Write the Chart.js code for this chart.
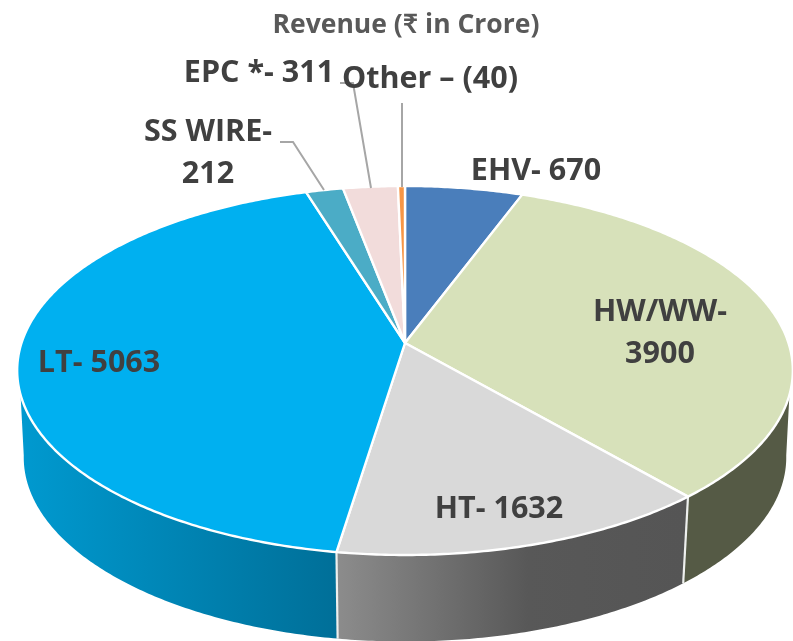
<!DOCTYPE html>
<html><head><meta charset="utf-8">
<style>html,body{margin:0;padding:0;background:#fff}canvas{display:block}</style>
<script src="https://cdn.jsdelivr.net/npm/chart.js@4"></script>
</head><body><canvas id="c" width="793" height="641"></canvas>
<script>
const categories = ["EHV", "HW/WW", "HT", "LT", "SS WIRE", "EPC *", "Other"];
const revenue = [670, 3900, 1632, 5063, 212, 311, 40];
const sliceColors = ["#4a7ebb", "#d7e1ba", "#d9d9d9", "#00b0f0", "#4bacc6", "#f2dcdb", "#f79646"];
const chartTitle = "Revenue (₹ in Crore)";

// perspective projection of the unit circle onto the picture
const TOP = {cx:405, cy:343, a:383.5, b:180.4};
const LOW = {cx:405, cy:430, a:377, b:180};
const K = 0.149;
function project(p, ang){
  const x = Math.cos(ang), y = Math.sin(ang), d = 1 - K*y;
  return [p.cx + p.a*x/d, p.cy + p.b*y/d];
}
function rimPath(ctx, p, a0, a1, first){
  const n = Math.max(2, Math.ceil(Math.abs(a1-a0)/0.01));
  for(let i=0;i<=n;i++){
    const q = project(p, a0+(a1-a0)*i/n);
    if(i===0 && first) ctx.moveTo(q[0],q[1]); else ctx.lineTo(q[0],q[1]);
  }
}
Chart.ArcElement.prototype.draw = function(ctx){
  ctx.save();
  ctx.beginPath();
  ctx.moveTo(TOP.cx, TOP.cy);
  rimPath(ctx, TOP, this.startAngle, this.endAngle, false);
  ctx.closePath();
  ctx.fillStyle = this.options.backgroundColor;
  ctx.fill();
  ctx.strokeStyle = this.options.borderColor;
  ctx.lineWidth = this.options.borderWidth;
  ctx.lineJoin = "round";
  ctx.stroke();
  ctx.restore();
};

const RAD = Math.PI/180;
const wallStops = {
  "HW/WW": [[0,"#555a45"],[1,"#555a45"]],
  "HT": [[0,"#8c8c8c"],[0.55,"#585858"],[1,"#555555"]],
  "LT": [[0,"#0099cf"],[1,"#006f98"]]
};
const wallPlugin = {
  id:"wall",
  beforeDatasetsDraw(chart){
    const ctx = chart.ctx, arcs = chart.getDatasetMeta(0).data;
    const topR = 16*RAD, topL = 164*RAD, lowR = 8*RAD, lowL = 172*RAD;
    arcs.forEach((arc,i)=>{
      const stops = wallStops[categories[i]];
      if(!stops) return;
      const s0 = Math.max(arc.startAngle, topR), s1 = Math.min(arc.endAngle, topL);
      const b0 = arc.startAngle<=topR ? lowR : s0, b1 = arc.endAngle>=topL ? lowL : s1;
      ctx.save();
      ctx.beginPath();
      rimPath(ctx, TOP, s0, s1, true);
      rimPath(ctx, LOW, b1, b0, false);
      ctx.closePath();
      const xs = [project(LOW,b0)[0], project(LOW,b1)[0]];
      const g = ctx.createLinearGradient(Math.min(...xs),0,Math.max(...xs),0);
      stops.forEach(st=>g.addColorStop(st[0],st[1]));
      ctx.fillStyle = g;
      ctx.fill();
      ctx.restore();
    });
    // white joints between the visible side faces
    arcs.forEach(arc=>{
      const a = arc.endAngle;
      if(a>topR && a<topL){
        const p = project(TOP,a), q = project(LOW,a);
        ctx.save();
        ctx.strokeStyle="#eef0ee"; ctx.lineWidth=2.2;
        ctx.beginPath(); ctx.moveTo(p[0],p[1]); ctx.lineTo(q[0],q[1]); ctx.stroke();
        ctx.restore();
      }
    });
  }
};

const labelLines = [["EHV- 670"],["HW/WW-","3900"],["HT- 1632"],["LT- 5063"],["SS WIRE-","212"],["EPC *- 311"],["Other – (40)"]];
const labelSpots = [[536,[170]],[660,[311,353]],[499,[508]],[99,[362]],[208,[131,173]],[259,[72]],[430,[78]]];
const leaders = [[[280,142],[293,142],[324,190]],[[340,83],[353,83],[371,188]],[[402,103],[402,187]]];
const labelPlugin = {
  id:"labels",
  afterDatasetsDraw(chart){
    const ctx = chart.ctx;
    ctx.save();
    ctx.strokeStyle="#a6a6a6"; ctx.lineWidth=2;
    leaders.forEach(pts=>{
      ctx.beginPath();
      pts.forEach((p,i)=> i?ctx.lineTo(p[0],p[1]):ctx.moveTo(p[0],p[1]));
      ctx.stroke();
    });
    ctx.fillStyle="#404040";
    ctx.font='bold 30.5px "Open Sans", Lato, sans-serif';
    ctx.textAlign="center"; ctx.textBaseline="middle";
    labelLines.forEach((lines,i)=>{
      lines.forEach((t,j)=>ctx.fillText(t,labelSpots[i][0],labelSpots[i][1][j]+1));
    });
    ctx.restore();
  }
};

new Chart(document.getElementById("c"),{
  type:"pie",
  data:{labels:categories,datasets:[{data:revenue,backgroundColor:sliceColors,borderColor:"#ffffff",borderWidth:2.4}]},
  plugins:[wallPlugin,labelPlugin],
  options:{
    responsive:false,animation:false,
    layout:{padding:{left:19}},
    plugins:{
      legend:{display:false},
      tooltip:{enabled:false},
      title:{display:true,text:chartTitle,color:"#595959",
        font:{family:'"Open Sans", Lato, sans-serif',size:26.5,weight:"bold"},
        padding:{top:10,bottom:5}}
    }
  }
});
</script></body></html>
